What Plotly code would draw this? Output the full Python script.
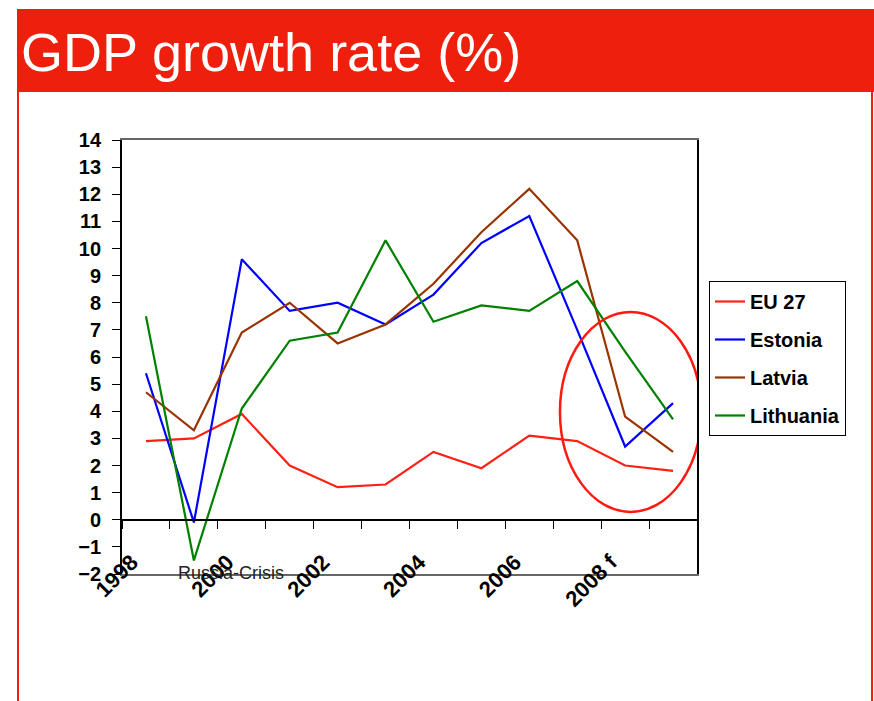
import plotly.graph_objects as go

# Annual real GDP growth, % (2008-2009 are forecasts)
years = ["1998", "1999", "2000", "2001", "2002", "2003", "2004", "2005", "2006", "2007", "2008", "2009"]
eu27 = [2.9, 3.0, 3.9, 2.0, 1.2, 1.3, 2.5, 1.9, 3.1, 2.9, 2.0, 1.8]
estonia = [5.4, -0.1, 9.6, 7.7, 8.0, 7.2, 8.3, 10.2, 11.2, 7.0, 2.7, 4.3]
latvia = [4.7, 3.3, 6.9, 8.0, 6.5, 7.2, 8.7, 10.6, 12.2, 10.3, 3.8, 2.5]
lithuania = [7.5, -1.5, 4.1, 6.6, 6.9, 10.3, 7.3, 7.9, 7.7, 8.8, 6.2, 3.7]

series_names = ["EU 27", "Estonia", "Latvia", "Lithuania"]
series_values = [eu27, estonia, latvia, lithuania]
series_colors = ["#FF2014", "#0000FF", "#993300", "#008000"]

# every second year is labelled on the category axis
label_years = ["1998", "2000", "2002", "2004", "2006", "2008 f"]
label_index = [0, 2, 4, 6, 8, 10]

x_pos = list(range(len(years)))
FONT = "Liberation Sans, Arial, sans-serif"

# plot-area geometry in pixels (used to place page decorations)
W, H = 874, 701
L, R, T, B = 122, 697, 140, 574


def px_x(p):
    return (p - L) / (R - L)


def px_y(p):
    return (B - p) / (B - T)


fig = go.Figure()
for i, (name, vals, col) in enumerate(zip(series_names, series_values, series_colors)):
    fig.add_trace(go.Scatter(
        x=x_pos, y=vals, name=name, mode="lines",
        line=dict(color=col, width=2.2),
        legendgroup=f"g{i}",
    ))

xr = [-0.5, len(years) - 0.5]

fig.update_layout(
    width=W, height=H,
    margin=dict(l=L, r=W - R, t=T, b=H - B, pad=0),
    paper_bgcolor="white", plot_bgcolor="white",
    font=dict(family=FONT, color="black"),
    showlegend=True,
    legend=dict(
        x=px_x(709), y=px_y(281), xanchor="left", yanchor="top",
        bordercolor="black", borderwidth=1, bgcolor="white",
        font=dict(size=20, weight="bold", family=FONT, color="black"),
        tracegroupgap=9, traceorder="grouped",
    ),
    xaxis=dict(
        range=xr, showgrid=False, zeroline=False,
        showline=True, linecolor="#666666", linewidth=1.5, mirror=True,
        ticks="", showticklabels=False,
    ),
    # category boundary ticks sitting on the zero line
    xaxis2=dict(
        overlaying="x", anchor="free", position=0.125, range=xr,
        showgrid=False, zeroline=False,
        showline=True, linecolor="black", linewidth=1.5,
        ticks="outside", ticklen=8, tickwidth=1.2, tickcolor="black",
        tickvals=[i - 0.5 for i in range(len(years) + 1)],
        showticklabels=False,
    ),
    # rotated year labels
    xaxis3=dict(
        overlaying="x", anchor="free", position=px_y(544), range=xr,
        showgrid=False, zeroline=False, showline=False, ticks="",
        tickvals=[i - 0.3 for i in label_index], ticktext=label_years,
        tickangle=-45,
        tickfont=dict(size=22, weight="bold", family=FONT, color="black"),
    ),
    yaxis=dict(
        range=[-2, 14], dtick=1, tick0=0, showgrid=False, zeroline=False,
        showline=True, linecolor="black", linewidth=1.8, mirror=True,
        ticks="outside", ticklen=8, tickwidth=1.2, tickcolor="black",
        ticklabelstandoff=7,
        tickfont=dict(size=20, weight="bold", family=FONT, color="black"),
    ),
)

# dummy traces to activate the extra x axes
fig.add_trace(go.Scatter(x=[None], y=[None], xaxis="x2", showlegend=False, hoverinfo="skip"))
fig.add_trace(go.Scatter(x=[None], y=[None], xaxis="x3", showlegend=False, hoverinfo="skip"))

# title banner and page frame
fig.add_shape(type="rect", xref="paper", yref="paper", layer="below",
              x0=px_x(17), x1=px_x(874), y0=px_y(92), y1=px_y(9),
              fillcolor="#EF1F0D", line=dict(width=0))
for xp in (18, 872):
    fig.add_shape(type="line", xref="paper", yref="paper",
                  x0=px_x(xp), x1=px_x(xp), y0=px_y(92), y1=px_y(H + 2),
                  line=dict(color="#EF1F0D", width=2))
fig.add_annotation(xref="paper", yref="paper", x=px_x(19), y=px_y(52),
                   xanchor="left", yanchor="middle", showarrow=False,
                   text="GDP growth rate (%)",
                   font=dict(family=FONT, size=54, color="white"))

# Russia crisis note and the highlighted forecast period
fig.add_annotation(x=1.77, y=-1.95, xref="x", yref="y", showarrow=False,
                   text="Russia-Crisis", yanchor="middle",
                   font=dict(family=FONT, size=18, color="#222222"))
fig.add_shape(type="circle", xref="x", yref="y",
              x0=8.64, x1=11.59, y0=0.29, y1=7.66,
              line=dict(color="#FF1A10", width=2.5))

fig.write_html("out.html", config={"displayModeBar": False})
